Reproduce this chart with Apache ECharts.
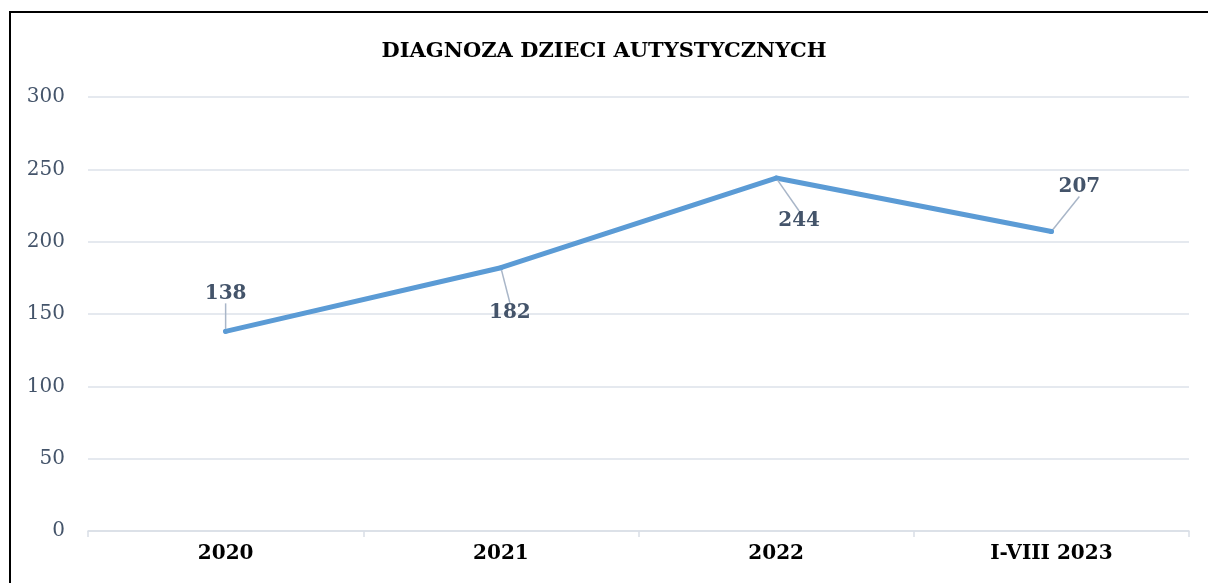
<!DOCTYPE html>
<html>
<head>
<meta charset="utf-8">
<script src="https://cdn.jsdelivr.net/npm/echarts@6/dist/echarts.min.js"></script>
<style>
	html, body { margin: 0; padding: 0; background: #fff; }
	#chart { width: 1208px; height: 583px; }
</style>
</head>
<body>
<div id="chart"></div>
<script>
var categories = ['2020', '2021', '2022', 'I-VIII 2023'];
var values = [138, 182, 244, 207];
// label offsets from each point (dx, dy)
var labelDx = [0, 9, 23, 28];
var labelDy = [-38, 45, 43, -45];

var serif = '"DejaVu Serif", "Liberation Serif", serif';

var chart = echarts.init(document.getElementById('chart'));
var option = {
	    animation: false,
	    title: {
	        text: 'DIAGNOZA DZIECI AUTYSTYCZNYCH',
	        left: 'center',
	        top: 36,
	        textStyle: {
	            fontFamily: serif,
	            fontWeight: 'bold',
	            fontSize: 21,
	            color: '#000'
	        }
	    },
	    graphic: [{
	        type: 'polyline',
	        shape: { points: [[10, 600], [10, 12], [1220, 12]] },
	        style: { stroke: '#000', lineWidth: 2, fill: null }
	    }],
	    grid: {
	        left: 88,
	        right: 19,
	        top: 97,
	        bottom: 52
	    },
	    xAxis: {
	        type: 'category',
	        data: categories,
	        axisLine: { lineStyle: { color: '#D9DEE6', width: 1.5 } },
	        axisTick: { show: true, length: 6, lineStyle: { color: '#D9DEE6', width: 1.5 } },
	        axisLabel: {
	            margin: 13,
	            fontFamily: serif,
	            fontWeight: 'bold',
	            fontSize: 20,
	            color: '#000'
	        }
	    },
	    yAxis: {
	        type: 'value',
	        min: 0,
	        max: 300,
	        interval: 50,
	        axisLine: { show: false },
	        axisTick: { show: false },
	        axisLabel: {
	            margin: 23,
	            fontFamily: serif,
	            fontSize: 20,
	            color: '#44546A'
	        },
	        splitLine: { lineStyle: { color: '#DDE2EA', width: 1.5 } }
	    },
	    series: [{
	        type: 'line',
	        data: values,
	        symbol: 'circle',
	        symbolSize: 5,
	        itemStyle: { color: '#5B9BD5' },
	        lineStyle: { color: '#5B9BD5', width: 5, cap: 'round', join: 'round' },
	        label: {
	            show: true,
	            position: 'inside',
	            fontFamily: serif,
	            fontWeight: 'bold',
	            fontSize: 20,
	            color: '#44546A'
	        },
	        labelLine: {
	            show: true,
	            lineStyle: { color: '#A9B6C8', width: 1.5 }
	        },
	        labelLayout: function(params) {
	            var i = params.dataIndex;
	            return { dx: labelDx[i], dy: labelDy[i] };
	        }
	    }]
};
chart.setOption(option);
</script>
</body>
</html>
